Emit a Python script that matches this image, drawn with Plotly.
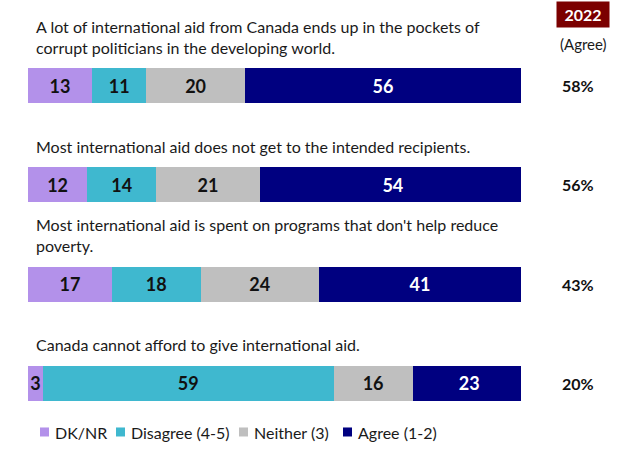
import plotly.graph_objects as go

questions = [
    "A lot of international aid from Canada ends up in the pockets of<br>corrupt politicians in the developing world.",
    "Most international aid does not get to the intended recipients.",
    "Most international aid is spent on programs that don't help reduce<br>poverty.",
    "Canada cannot afford to give international aid.",
]
dk_nr = [13, 12, 17, 3]
disagree = [11, 14, 18, 59]
neither = [20, 21, 24, 16]
agree = [56, 54, 41, 23]
agree_2022 = ["58%", "56%", "43%", "20%"]

series = [
    ("DK/NR", dk_nr, "#B391EA", "#111111"),
    ("Disagree (4-5)", disagree, "#3FB8CF", "#111111"),
    ("Neither (3)", neither, "#BFBFBF", "#111111"),
    ("Agree (1-2)", agree, "#000080", "#FFFFFF"),
]

FONT = "Lato"
ypos = list(range(len(questions)))

fig = go.Figure()
for name, vals, color, tcolor in series:
    fig.add_trace(
        go.Bar(
            y=ypos,
            x=vals,
            orientation="h",
            name=name,
            marker={"color": color, "line": {"width": 0}},
            width=0.353,
            text=vals,
            textposition="inside",
            insidetextanchor="middle",
            # the tiny "3" segment keeps its full label size
            constraintext="none" if name == "DK/NR" else "both",
            textangle=0,
            textfont={"family": FONT, "size": 18, "color": tcolor, "weight": "bold"},
            hoverinfo="skip",
            showlegend=False,
        )
    )

# question labels above each bar, plus the 2022 agree column
for i, q in enumerate(questions):
    fig.add_annotation(
        x=0, xref="paper", y=i, yref="y",
        text=q, showarrow=False,
        xanchor="left", yanchor="bottom", align="left",
        xshift=6, yshift=27,
        font={"family": FONT, "size": 16, "color": "#1a1a1a"},
    )
    fig.add_annotation(
        x=1.1156, xref="paper", y=i, yref="y",
        text=f"<b>{agree_2022[i]}</b>", showarrow=False,
        xanchor="center", yanchor="middle",
        font={"family": FONT, "size": 16, "color": "#111111"},
    )

fig.add_annotation(
    x=1.1258, xref="paper", y=1.0554, yref="paper",
    text="<b>2022</b>", showarrow=False,
    xanchor="center", yanchor="middle",
    bgcolor="#7B0000", borderpad=3, width=46, height=19,
    font={"family": FONT, "size": 16, "color": "white"},
)
fig.add_annotation(
    x=1.1258, xref="paper", y=0.9786, yref="paper",
    text="(Agree)", showarrow=False,
    xanchor="center", yanchor="middle",
    font={"family": FONT, "size": 15, "color": "#1a1a1a"},
)

# legend drawn by hand to match the compact spacing
legend_x = [12, 88, 211, 315]  # px from plot left edge
for (name, _, color, _), lx in zip(series, legend_x):
    fig.add_shape(
        type="rect", xref="paper", yref="paper",
        x0=lx / 493, x1=(lx + 9) / 493, y0=0.0139, y1=-0.0088,
        fillcolor=color, line={"width": 0},
    )
    fig.add_annotation(
        x=(lx + 13) / 493, xref="paper", y=0.0025, yref="paper",
        text=name, showarrow=False, xanchor="left", yanchor="middle",
        font={"family": FONT, "size": 16, "color": "#1a1a1a"},
    )

fig.update_layout(
    width=624, height=468,
    barmode="stack",
    bargap=0,
    plot_bgcolor="white", paper_bgcolor="white",
    margin={"l": 28, "r": 103, "t": 36, "b": 35},
    xaxis={"range": [0, 100], "visible": False, "fixedrange": True},
    yaxis={"range": [3.5, -0.5], "visible": False, "fixedrange": True},
    showlegend=False,
    font={"family": FONT},
)

# drop the default 8px body margin so the figure fills the window exactly
fig.write_html(
    "out.html",
    config={"displayModeBar": False, "staticPlot": True},
    post_script="document.body.style.margin = '0';",
)
